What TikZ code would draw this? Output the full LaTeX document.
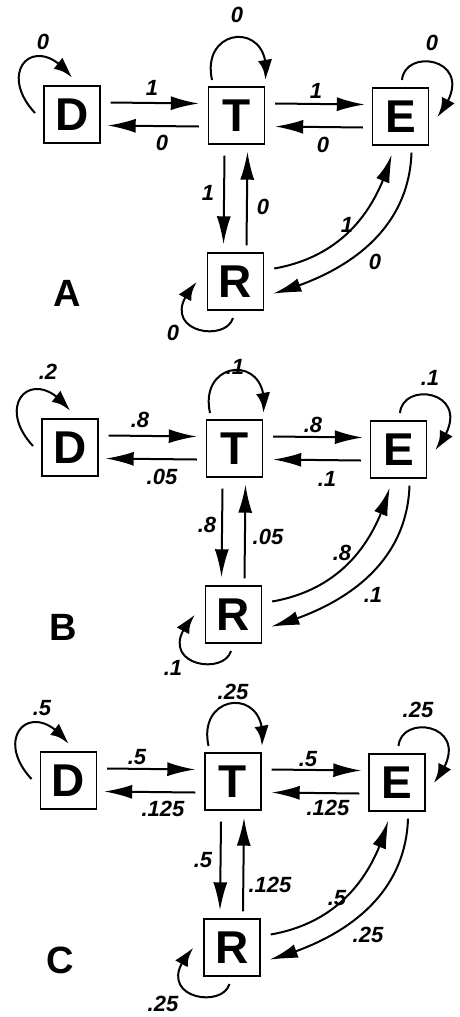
\documentclass[tikz,border=0pt]{standalone}
\usepackage{fontspec}
\setmainfont{Liberation Sans}
\usetikzlibrary{arrows.meta,calc,bending}
\tikzset{
  box/.style={draw,line width=1.4pt,minimum width=56pt,minimum height=57pt,inner sep=0pt,
    font=\fontsize{46}{46}\selectfont\bfseries},
  lab/.style={inner sep=0pt,font=\fontsize{22}{22}\selectfont\bfseries\itshape},
  panellab/.style={inner sep=0pt,font=\fontsize{38}{38}\selectfont\bfseries},
  straightconn/.style={line width=2pt,-{Latex[length=28pt,width=14pt]}},
  curveconn/.style={line width=2pt,-{Latex[length=28pt,width=14pt,bend]}},
  loopconn/.style={line width=2pt,-{Latex[length=22pt,width=14pt,bend]}},
}
\newcommand\mypanel[3]{%
  \begin{scope}[shift={(#2,-#3)}]
    \node[box] (#1D) at (72,-114.5) {D};
    \node[box] (#1T) at (236.5,-115.5) {T};
    \node[box] (#1E) at (400.5,-116.5) {E};
    \node[box] (#1R) at (235.5,-281.5) {R};
  \end{scope}
  \draw[straightconn] ($(#1D.east)+(10,12)$) -- ($(#1T.west)+(-9,12)$);
  \draw[straightconn] ($(#1T.west)+(-9,-11)$) -- ($(#1D.east)+(7,-11)$);
  \draw[straightconn] ($(#1T.east)+(10,12)$) -- ($(#1E.west)+(-7,12)$);
  \draw[straightconn] ($(#1E.west)+(-9,-11)$) -- ($(#1T.east)+(10,-11)$);
  \draw[straightconn] ($(#1T.south)+(-12,-11)$) -- ($(#1R.north)+(-12,8)$);
  \draw[straightconn] ($(#1R.north)+(11,7)$) -- ($(#1T.south)+(11,-7)$);
  \draw[curveconn] ($(#1R.east)+(10,13)$) to[out=10,in=-105] ($(#1E.south)+(-9,-9)$);
  \draw[curveconn] ($(#1E.south)+(11,-7)$) to[out=-92,in=15] ($(#1R.east)+(9,-12)$);
  \draw[loopconn] ($(#1D)+(-37,1.5)$) .. controls ($(#1D)+(-77,44.5)$) and ($(#1D)+(-35,85)$) .. ($(#1D)+(0,36.5)$);
  \draw[loopconn] ($(#1T)+(-24.5,35.5)$) .. controls ($(#1T)+(-36.5,90.5)$) and ($(#1T)+(38.5,95.5)$) .. ($(#1T)+(28.5,35.5)$);
  \draw[loopconn] ($(#1E)+(1.5,36.5)$) .. controls ($(#1E)+(4.5,71.5)$) and ($(#1E)+(84.5,56.5)$) .. ($(#1E)+(36.5,-0.5)$);
  \draw[loopconn] ($(#1R)+(-2.5,-36.5)$) .. controls ($(#1R)+(-10.5,-63.5)$) and ($(#1R)+(-85.5,-48.5)$) .. ($(#1R)+(-38.5,-0.5)$);
}
\begin{document}
\begin{tikzpicture}[x=1pt,y=1pt]
\path[use as bounding box] (0,0) rectangle (459,-1017);
% Panel A
\mypanel{a}{0}{0}
\node[panellab] (pA) at (67,-293) {A};
\node[lab] (a1) at (43,-42) {0};
\node[lab] (a2) at (237,-15) {0};
\node[lab] (a3) at (432,-43) {0};
\node[lab] (a4) at (152,-88) {1};
\node[lab] (a5) at (162,-143) {0};
\node[lab] (a6) at (316,-91) {1};
\node[lab] (a7) at (323,-145) {0};
\node[lab] (a8) at (208,-193) {1};
\node[lab] (a9) at (263,-207) {0};
\node[lab] (a10) at (347,-225) {1};
\node[lab] (a11) at (375,-262) {0};
\node[lab] (a12) at (173,-333) {0};
% Panel B
\mypanel{b}{-2}{333}
\node[panellab] (pB) at (63,-627) {B};
\node[lab] (b1) at (48,-372) {.2};
\node[lab] (b2) at (235,-367) {.1};
\node[lab] (b3) at (430,-378) {.1};
\node[lab] (b4) at (140,-420) {.8};
\node[lab] (b5) at (162,-477) {.05};
\node[lab] (b6) at (313,-425) {.8};
\node[lab] (b7) at (327,-479) {.1};
\node[lab] (b8) at (207,-525) {.8};
\node[lab] (b9) at (268,-537) {.05};
\node[lab] (b10) at (342,-553) {.8};
\node[lab] (b11) at (373,-595) {.1};
\node[lab] (b12) at (173,-668) {.1};
% Panel C
\mypanel{c}{-3.5}{666}
\node[panellab] (pC) at (60,-960) {C};
\node[lab] (c1) at (42,-708) {.5};
\node[lab] (c2) at (233,-692) {.25};
\node[lab] (c3) at (418,-710) {.25};
\node[lab] (c4) at (137,-757) {.5};
\node[lab] (c5) at (163,-809) {.125};
\node[lab] (c6) at (308,-759) {.5};
\node[lab] (c7) at (328,-808) {.125};
\node[lab] (c8) at (203,-860) {.5};
\node[lab] (c9) at (270,-885) {.125};
\node[lab] (c10) at (337,-898) {.5};
\node[lab] (c11) at (368,-935) {.25};
\node[lab] (c12) at (163,-1004) {.25};
\end{tikzpicture}
\end{document}
